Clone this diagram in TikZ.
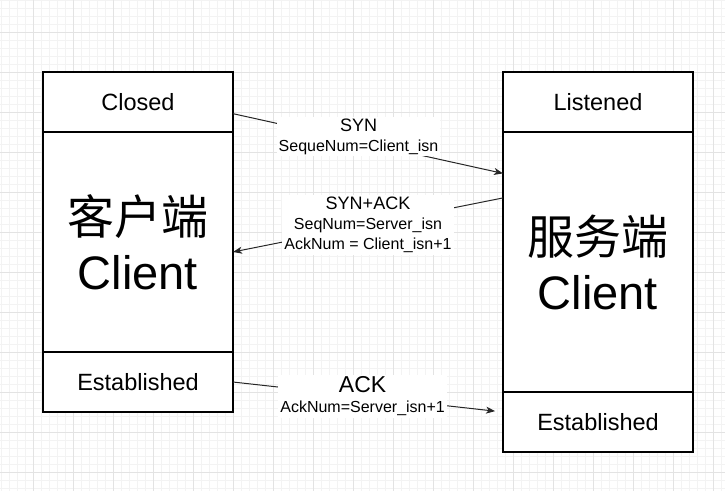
\documentclass[tikz,border=0pt]{standalone}
\usepackage{fontspec}
\setmainfont{Liberation Sans}
\newfontfamily\cjk{Noto Sans CJK SC}
\usetikzlibrary{positioning,arrows.meta}
\definecolor{gridminor}{HTML}{F3F3F3}
\definecolor{gridmajor}{HTML}{E3E3E3}

\begin{document}
\begin{tikzpicture}[
        x=1pt, y=-1pt,
        cell/.style={rectangle, draw, line width=1.3pt, fill=white, minimum width=190pt, outer sep=0pt, inner sep=0pt, font=\fontsize{23.5}{28}\selectfont},
        big/.style={font=\fontsize{47}{55}\selectfont, align=center},
        msg/.style={draw, line width=1pt, black!85, -{Stealth[length=9pt, width=7pt, inset=2.5pt]}},
        elabel/.style={fill=white, inner sep=2pt, align=center, text=black, font=\fontsize{16}{20}\selectfont}
    ]
        \useasboundingbox (0,0) rectangle (725,491);

        % Background grid
        \foreach \x in {1,9,...,721} \draw[gridminor] (\x,0) -- (\x,491);
        \foreach \y in {0,8,...,488} \draw[gridminor] (0,\y) -- (725,\y);
        \foreach \x in {33,73,...,713} \draw[gridmajor] (\x,0) -- (\x,491);
        \foreach \y in {32,72,...,472} \draw[gridmajor] (0,\y) -- (725,\y);

        % Client side
        \node[cell, minimum height=60pt] (closed) at (138,102) {Closed};
        \node[cell, minimum height=220pt, below=0pt of closed, big] (client) {{\cjk 客户端}\\Client};
        \node[cell, minimum height=60pt, below=0pt of client] (cest) {Established};

        % Server side
        \node[cell, minimum height=60pt] (listened) at (598,102) {Listened};
        \node[cell, minimum height=260pt, below=0pt of listened, big] (server) {{\cjk 服务端}\\Client};
        \node[cell, minimum height=60pt, below=0pt of server] (sest) {Established};

        % Handshake messages
        % SYN
        \draw[msg] (closed.-7.2) -- node[elabel, pos=0.465, yshift=5pt] {{\fontsize{18}{20}\selectfont SYN}\\SequeNum=Client\_isn} (server.137.2);

        % SYN+ACK
        \draw[msg] (server.146) -- node[elabel, pos=0.5] {{\fontsize{18}{20}\selectfont SYN+ACK}\\SeqNum=Server\_isn\\AckNum = Client\_isn+1} (client.-6.6);

        % ACK
        \draw[msg, shorten >=8pt] (cest.east) -- node[elabel, pos=0.48] {{\fontsize{23}{24}\selectfont ACK}\\AckNum=Server\_isn+1} (sest.174);

    \end{tikzpicture}
\end{document}
